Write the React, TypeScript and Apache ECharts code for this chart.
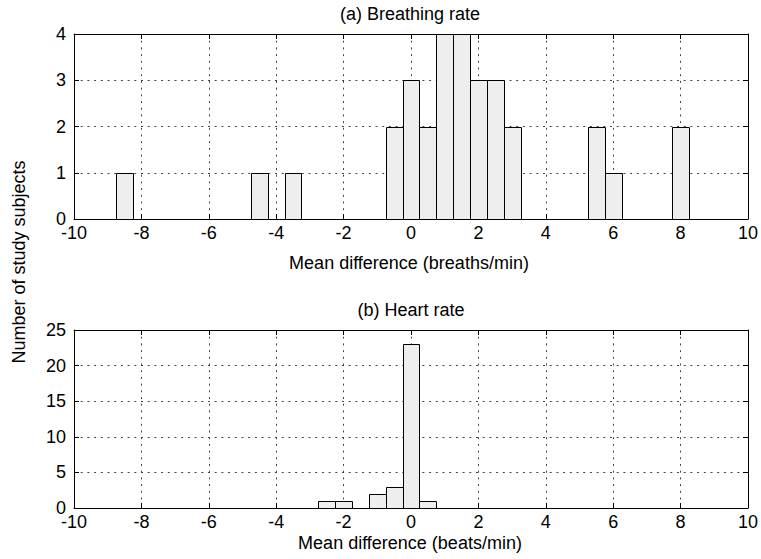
import React, { useEffect, useRef } from "react";
import * as echarts from "echarts";

// Histogram bin width (both panels)
const BIN_WIDTH = 0.5;

// (a) Breathing rate: bin centres and counts
const breathingCenters = [-8.5, -4.5, -3.5, -0.5, 0, 0.5, 1, 1.5, 2, 2.5, 3, 5.5, 6, 8];
const breathingCounts = [1, 1, 1, 2, 3, 2, 4, 4, 3, 3, 2, 2, 1, 2];

// (b) Heart rate: bin centres and counts
const heartCenters = [-2.5, -2, -1, -0.5, 0, 0.5];
const heartCounts = [1, 1, 2, 3, 23, 1];

const titles = ["(a) Breathing rate", "(b) Heart rate"];
const xNames = ["Mean difference (breaths/min)", "Mean difference (beats/min)"];
const yName = "Number of study subjects";

const X_MIN = -10;
const X_MAX = 10;
const X_STEP = 2;
const yMax = [4, 25];
const yStep = [1, 5];

const FONT = "Liberation Sans";
const FONT_SIZE = 18;

function renderBin(_params: any, api: any) {
  const c = api.value(0);
  const v = api.value(1);
  const p0 = api.coord([c - BIN_WIDTH / 2, v]);
  const p1 = api.coord([c + BIN_WIDTH / 2, 0]);
  return {
    type: "rect",
    shape: {
      x: Math.round(p0[0]) + 0.5,
      y: Math.round(p0[1]) + 0.5,
      width: Math.round(p1[0]) - Math.round(p0[0]),
      height: Math.round(p1[1]) - Math.round(p0[1]),
    },
    style: { fill: "#eeeeee", stroke: "#000", lineWidth: 1 },
  };
}

export default function App() {
  const ref = useRef<HTMLDivElement>(null);

  useEffect(() => {
    if (!ref.current) return;
    const chart = echarts.init(ref.current, undefined, { renderer: "svg" });

    const grids = [
      { left: 74, right: 12, top: 34, height: 185 },
      { left: 74, right: 12, top: 330, height: 178 },
    ];

    const dotted = { color: "#444", width: 1, type: [2, 4.7] as any };
    const tickStyle = { show: true, inside: true, length: 5, lineStyle: { color: "#000" } };
    const labelStyle = { color: "#000", fontFamily: FONT, fontSize: FONT_SIZE };

    const xAxes: any[] = [];
    const yAxes: any[] = [];
    grids.forEach((_, i) => {
      xAxes.push({
        type: "value",
        gridIndex: i,
        min: X_MIN,
        max: X_MAX,
        interval: X_STEP,
        position: "bottom",
        axisLine: { show: true, onZero: false, lineStyle: { color: "#000" } },
        axisTick: tickStyle,
        axisLabel: { ...labelStyle, margin: 7, lineHeight: 14 },
        splitLine: { show: true, lineStyle: dotted },
      });
      xAxes.push({
        type: "value",
        gridIndex: i,
        min: X_MIN,
        max: X_MAX,
        interval: X_STEP,
        position: "top",
        axisLine: { show: true, onZero: false, lineStyle: { color: "#000" } },
        axisTick: tickStyle,
        axisLabel: { show: false },
        splitLine: { show: false },
      });
      yAxes.push({
        type: "value",
        gridIndex: i,
        min: 0,
        max: yMax[i],
        interval: yStep[i],
        position: "left",
        axisLine: { show: true, onZero: false, lineStyle: { color: "#000" } },
        axisTick: tickStyle,
        axisLabel: { ...labelStyle, margin: 8, lineHeight: 12, padding: [0, 0, 3, 0] },
        splitLine: { show: true, lineStyle: dotted },
      });
      yAxes.push({
        type: "value",
        gridIndex: i,
        min: 0,
        max: yMax[i],
        interval: yStep[i],
        position: "right",
        axisLine: { show: true, onZero: false, lineStyle: { color: "#000" } },
        axisTick: tickStyle,
        axisLabel: { show: false },
        splitLine: { show: false },
      });
    });

    const textStyle = (s: string) => ({
      text: s,
      fill: "#000",
      font: `${FONT_SIZE}px "${FONT}"`,
      align: "center",
      verticalAlign: "middle",
    });

    chart.setOption({
      animation: false,
      backgroundColor: "#fff",
      grid: grids,
      xAxis: xAxes,
      yAxis: yAxes,
      series: [
        {
          type: "custom",
          xAxisIndex: 0,
          yAxisIndex: 0,
          renderItem: renderBin,
          encode: { x: 0, y: 1 },
          data: breathingCenters.map((c, i) => [c, breathingCounts[i]]),
          z: 1,
        },
        {
          type: "custom",
          xAxisIndex: 2,
          yAxisIndex: 2,
          renderItem: renderBin,
          encode: { x: 0, y: 1 },
          data: heartCenters.map((c, i) => [c, heartCounts[i]]),
          z: 1,
        },
      ],
      graphic: [
        { type: "text", x: 410, y: 14, style: textStyle(titles[0]) },
        { type: "text", x: 409, y: 263, style: textStyle(xNames[0]) },
        { type: "text", x: 411, y: 310, style: textStyle(titles[1]) },
        { type: "text", x: 410, y: 543, style: textStyle(xNames[1]) },
        { type: "text", x: 19, y: 262, rotation: Math.PI / 2, style: textStyle(yName) },
      ],
    });

    return () => chart.dispose();
  }, []);

  return (
    <div
      ref={ref}
      style={{ position: "fixed", left: 0, top: 0, width: 761, height: 559, background: "#fff" }}
    />
  );
}
